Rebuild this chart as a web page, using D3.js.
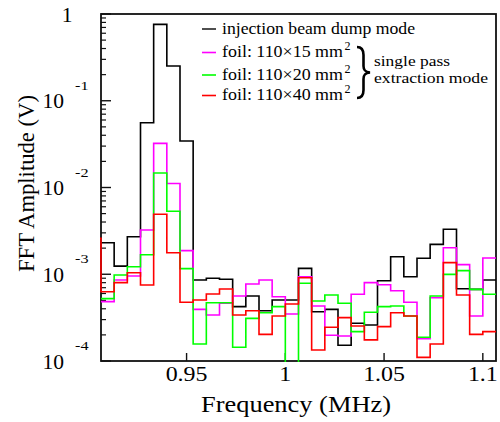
<!DOCTYPE html>
<html><head><meta charset="utf-8">
<script src="https://cdn.jsdelivr.net/npm/d3@7"></script>
<style>
body{margin:0;background:#fff}
svg{display:block}
</style>
</head><body>
<svg id="c" width="500" height="422" font-family="'Liberation Serif', 'DejaVu Serif', serif"></svg>
<script>
// ---- data ----
const binEdges = [0.90667,0.91333,0.92,0.92667,0.93333,0.94,0.94667,0.95333,0.96,0.96667,
  0.97333,0.98,0.98667,0.99333,1.0,1.00667,1.01333,1.02,1.02667,1.03333,
  1.04,1.04667,1.05333,1.06,1.06667,1.07333,1.08,1.08667,1.09333,1.1,1.10667];
const injectionAmp = [0.00231,0.00124,0.00271,0.0558,0.760,0.252,0.0344,0.000859,0.000898,0.000875,
  0.000423,0.000561,0.000380,0.000505,0.000505,0.00117,0.000370,0.000394,0.000152,0.000272,
  0.000260,0.000843,0.00159,0.000937,0.00153,0.00221,0.00330,0.000681,0.000670,0.000859];
const foil15Amp = [0.000483,0.000859,0.000955,0.00324,0.0323,0.0111,0.00187,0.000394,0.000339,0.000463,
  0.000561,0.000773,0.000859,0.000551,0.000348,0.000937,0.000431,0.000198,0.000194,0.000588,
  0.000800,0.000758,0.000646,0.000475,0.000181,0.000537,0.00202,0.00129,0.000330,0.00154];
const foil20Amp = [0.000523,0.000980,0.00122,0.00168,0.0147,0.00532,0.00116,0.000157,0.000470,0.000470,
  0.000144,0.000310,0.000360,0.000423,0,0.000787,0.000492,0.000577,0.000463,0.000218,
  0.000364,0.000423,0.000431,0.000330,0.000188,0.000561,0.000998,0.00110,0.000670,0.000588];
const foil40Amp = [0.000629,0.000800,0.00104,0.000752,0.00491,0.00177,0.000475,0.000505,0.000592,0.000676,
  0.000339,0.000380,0.000203,0.000330,0.000454,0.000912,0.000134,0.000245,0.000316,0.000253,
  0.000175,0.000249,0.000360,0.000330,0.000110,0.000157,0.00136,0.000577,0.000203,0.000218];
const foil40LeadIn = 0.0026; // bin just left of the visible range
const xTicks = [0.95, 1.0, 1.05, 1.1];
const xTickLabels = ["0.95", "1", "1.05", "1.1"];
const yDecades = [1e-4, 1e-3, 1e-2, 1e-1, 1];
const yExponents = ["-4", "-3", "-2", "-1", ""];
const seriesLabels = ["injection beam dump mode", "foil: 110\u00d715 mm", "foil: 110\u00d720 mm", "foil: 110\u00d740 mm"];
const seriesSup = ["", "2", "2", "2"];
const seriesColors = ["#000000", "#ff00ff", "#00ff00", "#ff0000"];
const braceLabels = ["single pass", "extraction mode"];

// ---- layout ----
const FONT = "Liberation Serif";
const L = 101, R = 496, T = 14, B = 361;
const svg = d3.select("#c");
const x = d3.scaleLinear().domain([binEdges[0], binEdges[binEdges.length - 1]]).range([L, R]);
const y = d3.scaleLog().domain([1e-4, 1]).range([B, T]);

function txt(g, px, py, s, size, anchor, sx) {
  return g.append("text")
    .attr("transform", `translate(${px},${py}) scale(${sx || 1},1)`)
    .attr("font-family", FONT).attr("fill", "#000")
    .attr("font-size", size).attr("text-anchor", anchor || "start").text(s);
}
function fitText(g, px, py, s, size, len) {
  return g.append("text").attr("x", px).attr("y", py)
    .attr("font-family", FONT).attr("fill", "#000").attr("font-size", size)
    .attr("textLength", len).attr("lengthAdjust", "spacingAndGlyphs").text(s);
}

// clip
svg.append("clipPath").attr("id", "clip").append("rect")
  .attr("x", L - 1).attr("y", T - 1).attr("width", R - L + 2).attr("height", B - T + 2);

// frame
svg.append("rect").attr("x", L).attr("y", T).attr("width", R - L).attr("height", B - T)
  .attr("fill", "none").attr("stroke", "#111").attr("stroke-width", 1.8);

// y ticks
const yt = svg.append("g");
yDecades.forEach(d => {
  yt.append("line").attr("x1", L).attr("x2", L + 10).attr("y1", y(d)).attr("y2", y(d))
    .attr("stroke", "#111").attr("stroke-width", 1.4);
  if (d < 1) for (let k = 2; k <= 9; k++) {
    const v = d * k;
    yt.append("line").attr("x1", L).attr("x2", L + 5).attr("y1", y(v)).attr("y2", y(v))
      .attr("stroke", "#111").attr("stroke-width", 1.2);
  }
});
yDecades.forEach((d, i) => {
  const py = y(d);
  if (yExponents[i] === "") {
    txt(svg, 72.5, py + 7.5, "1", 20.5, "end", 1.05);
  } else {
    txt(svg, 64, py + 7.5, "10", 20.5, "end", 1.05);
    txt(svg, 75, py - 11, yExponents[i], 12.5, "start", 1.3);
  }
});

// x ticks
xTicks.forEach((t, i) => {
  svg.append("line").attr("x1", x(t)).attr("x2", x(t)).attr("y1", B).attr("y2", B - 8)
    .attr("stroke", "#111").attr("stroke-width", 1.4);
  txt(svg, x(t), 381, xTickLabels[i], 21, "middle", 1.14);
});

// axis titles
svg.append("text").attr("font-size", 23).attr("font-family", FONT).attr("fill", "#000")
  .attr("x", 201).attr("y", 412).attr("textLength", 190).attr("lengthAdjust", "spacingAndGlyphs")
  .text("Frequency (MHz)");
svg.append("text").attr("font-size", 24).attr("font-family", FONT).attr("fill", "#000")
  .attr("transform", "translate(33.5,272) rotate(-90)")
  .attr("textLength", 177).attr("lengthAdjust", "spacingAndGlyphs").text("FFT Amplitude (V)");

// histograms
const plot = svg.append("g").attr("clip-path", "url(#clip)");
const yv = v => v > 0 ? y(v) : B + 6;
function stepPath(vals, lead) {
  const pts = [];
  if (lead !== undefined) pts.push([x(binEdges[0]) - 10, yv(lead)], [x(binEdges[0]), yv(lead)]);
  vals.forEach((v, i) => { pts.push([x(binEdges[i]), yv(v)]); });
  pts.push([x(binEdges[vals.length]), yv(vals[vals.length - 1])]);
  return d3.line().curve(d3.curveStepAfter)(pts);
}
const allSeries = [injectionAmp, foil15Amp, foil20Amp, foil40Amp];
allSeries.forEach((vals, i) => {
  plot.append("path").attr("d", stepPath(vals, i === 3 ? foil40LeadIn : undefined))
    .attr("fill", "none").attr("stroke", seriesColors[i]).attr("stroke-width", 1.6)
    .attr("stroke-linejoin", "miter");
});

// legend
const legY = [29, 52.5, 75, 95.5];
const legLen = [193, 121, 121, 121];
seriesLabels.forEach((s, i) => {
  svg.append("line").attr("x1", 202).attr("x2", 216).attr("y1", legY[i]).attr("y2", legY[i])
    .attr("stroke", seriesColors[i] === "#000000" ? "#222" : seriesColors[i]).attr("stroke-width", 1.6);
  fitText(svg, 222, legY[i] + 4.8, s, 16, legLen[i]);
  if (seriesSup[i]) txt(svg, 344.5, legY[i] - 2.5, seriesSup[i], 11.5, "start", 1.05);
});
// brace
svg.append("path")
  .attr("d", "M357,47 C362,47 363.5,50 363.5,55 L363.5,66 C363.5,70 365,72 370,72.5 C365,73 363.5,75 363.5,79 L363.5,90 C363.5,95 362,98 357,98")
  .attr("fill", "none").attr("stroke", "#000").attr("stroke-width", 2.6);
fitText(svg, 374, 65.5, braceLabels[0], 15.5, 76);
fitText(svg, 374, 82.5, braceLabels[1], 15.5, 114);
</script>
</body></html>
